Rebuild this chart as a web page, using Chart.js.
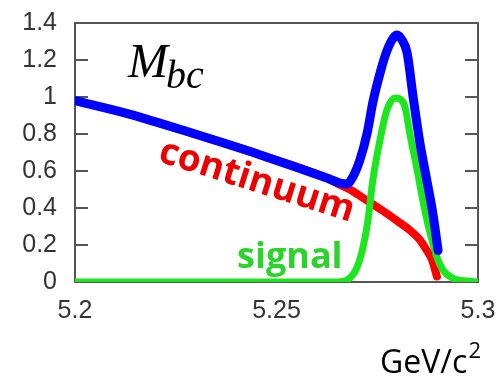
<!DOCTYPE html>
<html>
<head>
<meta charset="utf-8">
<script src="https://cdn.jsdelivr.net/npm/chart.js@4"></script>
<style>
  html, body { margin: 0; padding: 0; background: #fff; }
  #wrap { width: 502px; height: 381px; position: relative; }
  #mbc { position: relative; z-index: 1; }
  #box { position: absolute; z-index: 0; border: 2px solid #555; box-sizing: border-box; }
  .tick { position: absolute; z-index: 0; width: 13px; height: 2px; background: #555; }
</style>
</head>
<body>
<div id="wrap"><div id="box"></div><canvas id="mbc"></canvas></div>
<script>
// Mbc distribution: total fit, continuum (ARGUS) and signal (Gaussian)
const xTickLabels = ["5.2", "5.25", "5.3"];
const yTickLabels = ["0", "0.2", "0.4", "0.6", "0.8", "1", "1.2", "1.4"];

const totalX = [5.2, 5.213, 5.229, 5.246, 5.2625, 5.2658, 5.2675, 5.269, 5.2707, 5.2725, 5.2739,
                5.2757, 5.2774, 5.279, 5.2799, 5.2811, 5.2824, 5.2839, 5.2856, 5.2873, 5.2888, 5.2901];
const totalY = [0.98, 0.91, 0.805, 0.687, 0.562, 0.535, 0.53, 0.57, 0.66, 0.805, 0.97,
                1.13, 1.25, 1.32, 1.335, 1.31, 1.24, 1.0, 0.75, 0.55, 0.37, 0.17];

const continuumX = [5.2, 5.213, 5.229, 5.246, 5.2625, 5.2658, 5.2682, 5.2725, 5.2764, 5.2806,
                    5.2831, 5.2856, 5.2873, 5.2886, 5.2898];
const continuumY = [0.98, 0.91, 0.805, 0.687, 0.562, 0.525, 0.50, 0.44, 0.385, 0.32,
                    0.28, 0.227, 0.17, 0.12, 0.03];

const signalX = [5.2, 5.265, 5.2675, 5.27, 5.2715, 5.2727, 5.2739, 5.2757, 5.2774, 5.2794, 5.2806,
                 5.2819, 5.2831, 5.2849, 5.2864, 5.2881, 5.2898, 5.2913, 5.2938, 5.2973, 5.3];
const signalY = [0, 0, 0.01, 0.08, 0.19, 0.335, 0.55, 0.77, 0.93, 0.995, 0.99,
                 0.945, 0.80, 0.605, 0.43, 0.265, 0.135, 0.065, 0.02, 0.005, 0];

const frameColor = "#555";

function pts(xs, ys) {
    return xs.map((x, i) => ({ x: x, y: ys[i] }));
}

function line(data, color, width) {
    return {
        data: data,
        borderColor: color,
        borderWidth: width,
        pointRadius: 0,
        fill: false,
        cubicInterpolationMode: "monotone",
        borderCapStyle: "round",
        borderJoinStyle: "round"
    };
}

// box and inward ticks as page elements sitting under the canvas
function placeFrame(chart) {
    const a = chart.chartArea;
    const ys = chart.scales.y;
    const wrap = document.getElementById("wrap");
    const box = document.getElementById("box");
    box.style.left = (a.left - 1) + "px";
    box.style.top = (a.top - 1) + "px";
    box.style.width = (a.right - a.left + 2) + "px";
    box.style.height = (a.bottom - a.top + 2) + "px";
    wrap.querySelectorAll(".tick").forEach(t => t.remove());
    yTickLabels.forEach(lbl => {
        const v = parseFloat(lbl);
        if (v <= 0 || v >= 1.4) return;
        const py = Math.round(ys.getPixelForValue(v)) - 1;
        [a.left, a.right - 13].forEach(px => {
            const t = document.createElement("div");
            t.className = "tick";
            t.style.left = px + "px";
            t.style.top = py + "px";
            wrap.appendChild(t);
        });
    });
}

const labelsPlugin = {
    id: "mbcLabels",
    afterDraw(chart) {
        placeFrame(chart);
        const ctx = chart.ctx;
        ctx.save();
        ctx.fillStyle = "#000";
        ctx.textBaseline = "alphabetic";
        ctx.font = "italic 48px 'Liberation Serif'";
        ctx.fillText("M", 128, 77);
        ctx.font = "italic 40px 'Liberation Serif'";
        ctx.fillText("bc", 166, 88);

        ctx.font = "32px 'Open Sans'";
        ctx.fillText("GeV/c", 380, 373);
        const w = ctx.measureText("GeV/c").width;
        ctx.font = "22px 'Open Sans'";
        ctx.fillText("2", 380 + w + 1, 358);

        ctx.fillStyle = "#ee0000";
        ctx.font = "bold 37px 'Open Sans'";
        ctx.translate(157, 161);
        ctx.rotate(17.5 * Math.PI / 180);
        ctx.fillText("continuum", 0, 0);
        ctx.restore();

        ctx.save();
        ctx.fillStyle = "#2bd42b";
        ctx.font = "bold 36px 'Open Sans'";
        ctx.fillText("signal", 237, 268);
        ctx.restore();
    }
};

new Chart(document.getElementById("mbc"), {
    type: "line",
    data: {
        datasets: [
            line(pts(totalX, totalY), "#0000ff", 9),
            line(pts(signalX, signalY), "#1ee61e", 7),
            line(pts(continuumX, continuumY), "#ff0000", 8)
        ]
    },
    options: {
        responsive: true,
        maintainAspectRatio: false,
        animation: false,
        layout: { padding: { left: 0, top: 23, right: 24, bottom: 0 } },
        plugins: { legend: { display: false }, tooltip: { enabled: false } },
        scales: {
            x: {
                type: "linear",
                min: 5.2,
                max: 5.3,
                grid: { display: false, drawTicks: false },
                border: { display: true, color: frameColor, width: 2 },
                ticks: {
                    stepSize: 0.05,
                    padding: 14,
                    maxRotation: 0,
                    color: "#333",
                    font: { family: "'Liberation Sans'", size: 25 },
                    callback: (v, i) => xTickLabels[i]
                },
                afterFit(s) { s.height = 99; s.paddingLeft = 0; s.paddingRight = 0; }
            },
            y: {
                min: 0,
                max: 1.4,
                grid: { display: false, drawTicks: false },
                border: { display: true, color: frameColor, width: 2 },
                ticks: {
                    stepSize: 0.2,
                    padding: 18,
                    color: "#333",
                    font: { family: "'Liberation Sans'", size: 25 },
                    callback: (v, i) => yTickLabels[i]
                },
                afterFit(s) { s.width = 75; s.paddingTop = 0; s.paddingBottom = 0; }
            }
        }
    },
    plugins: [labelsPlugin]
});
</script>
</body>
</html>
